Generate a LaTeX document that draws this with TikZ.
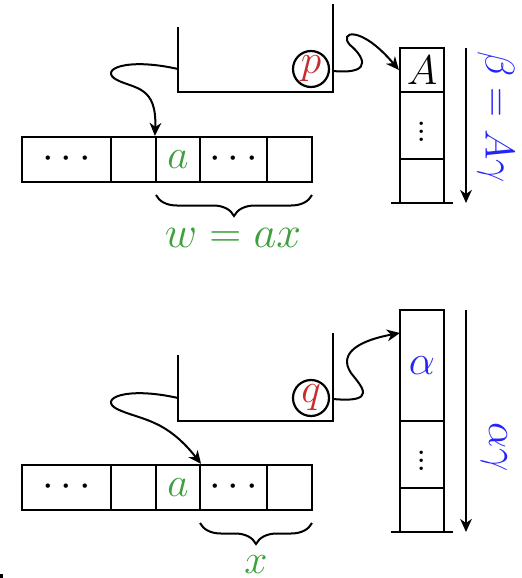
\documentclass[tikz,border=0pt]{standalone}
\usetikzlibrary{arrows.meta,decorations.pathreplacing}
\definecolor{mygreen}{RGB}{60,160,60}
\definecolor{myred}{RGB}{200,45,45}
\definecolor{myblue}{RGB}{35,35,250}
\begin{document}
\begin{tikzpicture}[x=0.5pt,y=-0.5pt,
  line width=1.1pt,
  every node/.style={font=\fontsize{20.74}{25}\selectfont},
  cell/.style={draw,line width=1.1pt,inner sep=0pt,minimum height=22.5pt},
  state/.style={draw,circle,line width=1.1pt,inner sep=0pt,minimum size=18pt,text=myred},
  arr/.style={-{Stealth[length=6.5pt,width=5.8pt,inset=2pt]},line width=1pt},
  brc/.style={decorate,decoration={brace,mirror,amplitude=10.5pt},line width=1pt}]
\useasboundingbox (0,0) rectangle (522,578);

% ================= TOP =================
% tape
\node[cell,minimum width=44.5pt] (t1) at (66.5,159.5) {$\cdots$};
\node[cell,minimum width=22.5pt] (t2) at (133.5,159.5) {};
\node[cell,minimum width=22pt,text=mygreen] (t3) at (178,159.5) {$a$};
\node[cell,minimum width=33.5pt] (t4) at (233.5,159.5) {$\cdots$};
\node[cell,minimum width=22.5pt] (t5) at (289.5,159.5) {};
% control
\draw (178,27) |- (333,92) -- (333,4);
\coordinate (uL1) at (178,69);
\coordinate (uR1) at (333,71);
\node[state] (p) at (311,69) {$p$};
% stack
\node[cell,minimum width=22pt,minimum height=22pt] (s1) at (422,70) {$A$};
\node[cell,minimum width=22pt,minimum height=33.5pt] (s2) at (422,125.5) {$\vdots$};
\node[cell,minimum width=22pt,minimum height=22pt] (s3) at (422,181) {};
\coordinate (sb1L) at (391,203);
\coordinate (sb1R) at (453,203);
\draw (sb1L) -- (sb1R);
\coordinate (d1a) at (466,48);
\coordinate (d1b) at (466,203);
\draw[arr] (d1a) -- (d1b);
\node[rotate=-90,text=myblue] (lab1) at (496,117) {$\beta = A\gamma$};
% arrows
\draw[arr] (uL1) .. controls (125,57) and (98,70) .. (117,80)
  .. controls (135,89) and (157,86) .. (t3.north west);
\draw[arr] (uR1) .. controls (378,75) and (360,53) .. (350,45)
  .. controls (338,32) and (360,24) .. (s1.west);
% brace
\coordinate (br1a) at (156,195);
\coordinate (br1b) at (312,195);
\draw[brc] (br1a) -- (br1b);
\node[text=mygreen] (w) at (233,238) {\scalebox{1.07}{$w = ax$}};

% ================= BOTTOM =================
\node[cell,minimum width=44.5pt] (b1) at (66.5,487.5) {$\cdots$};
\node[cell,minimum width=22.5pt] (b2) at (133.5,487.5) {};
\node[cell,minimum width=22pt,text=mygreen] (b3) at (178,487.5) {$a$};
\node[cell,minimum width=33.5pt] (b4) at (233.5,487.5) {$\cdots$};
\node[cell,minimum width=22.5pt] (b5) at (289.5,487.5) {};
\draw (178,355) |- (333,421) -- (333,333);
\coordinate (uL2) at (178,398);
\coordinate (uR2) at (333,399);
\node[state] (q) at (311,398) {$q$};
\node[cell,minimum width=22pt,minimum height=55.5pt,text=myblue] (r1) at (422,365.5) {$\alpha$};
\node[cell,minimum width=22pt,minimum height=33.5pt] (r2) at (422,454.5) {$\vdots$};
\node[cell,minimum width=22pt,minimum height=22pt] (r3) at (422,510) {};
\coordinate (sb2L) at (391,532);
\coordinate (sb2R) at (453,532);
\draw (sb2L) -- (sb2R);
\coordinate (d2a) at (466,310);
\coordinate (d2b) at (466,532);
\draw[arr] (d2a) -- (d2b);
\node[rotate=-90,text=myblue] (lab2) at (494,447) {$\alpha\gamma$};
\coordinate (rin) at (400,333);
\draw[arr] (uL2) .. controls (125,386) and (98,399) .. (117,409)
  .. controls (140,420) and (165,418) .. (b3.north east);
\draw[arr] (uR2) .. controls (378,403) and (362,387) .. (351,373)
  .. controls (337,352) and (362,340) .. (rin);
\coordinate (br2a) at (200,523);
\coordinate (br2b) at (312,523);
\draw[brc] (br2a) -- (br2b);
\node[text=mygreen] (xl) at (256,565) {$x$};
\fill (0,574) rectangle (3,578);
\end{tikzpicture}
\end{document}
